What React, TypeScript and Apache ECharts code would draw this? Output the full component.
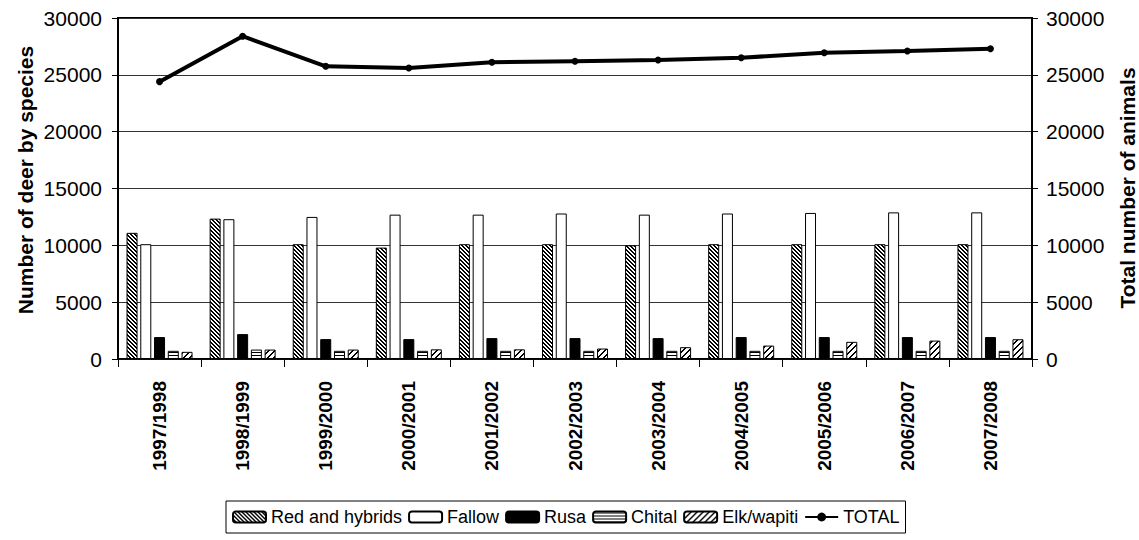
import React, { useEffect, useRef } from 'react';
import * as echarts from 'echarts';

const seasons = ['1997/1998', '1998/1999', '1999/2000', '2000/2001', '2001/2002', '2002/2003', '2003/2004', '2004/2005', '2005/2006', '2006/2007', '2007/2008'];
const redHybrids = [11100, 12350, 10100, 9800, 10100, 10100, 10000, 10100, 10100, 10100, 10100];
const fallow = [10100, 12300, 12500, 12700, 12700, 12800, 12700, 12800, 12850, 12900, 12900];
const rusa = [1930, 2190, 1750, 1750, 1840, 1840, 1840, 1930, 1930, 1930, 1930];
const chital = [720, 830, 720, 720, 720, 720, 720, 720, 720, 720, 720];
const elk = [630, 830, 830, 850, 850, 920, 1040, 1180, 1510, 1620, 1740];
const total = [24400, 28400, 25750, 25600, 26100, 26200, 26300, 26500, 26950, 27100, 27300];
const yTicks = { min: 0, max: 30000, interval: 5000 };

const FONT = '"Liberation Sans", Arial, sans-serif';

function makePattern(w: number, h: number, isBlack: (x: number, y: number) => boolean) {
  const c = document.createElement('canvas');
  c.width = w;
  c.height = h;
  const ctx = c.getContext('2d')!;
  ctx.fillStyle = '#fff';
  ctx.fillRect(0, 0, w, h);
  ctx.fillStyle = '#000';
  for (let x = 0; x < w; x++) {
    for (let y = 0; y < h; y++) {
      if (isBlack(x, y)) ctx.fillRect(x, y, 1, 1);
    }
  }
  return { image: c, repeat: 'repeat', imageWidth: w, imageHeight: h } as any;
}

export default function App() {
  const ref = useRef<HTMLDivElement>(null);
  useEffect(() => {
    if (!ref.current) return;
    const chart = echarts.init(ref.current, null, { renderer: 'svg' });
    const redPat = makePattern(4, 4, (x, y) => (((x - y) % 4) + 4) % 4 < 2);
    const chitalPat = makePattern(4, 3, (_x, y) => y === 1);
    const elkPat = makePattern(6, 6, (x, y) => (x + y) % 6 < 2);
    const barBase = { type: 'bar', yAxisIndex: 0, barWidth: 11, barGap: '25%' };
    const border = { borderColor: '#000', borderWidth: 1 };
    const plain = (v: number) => String(v);
    chart.setOption({
      animation: false,
      backgroundColor: '#fff',
      textStyle: { fontFamily: FONT, color: '#000' },
      grid: { left: 118, right: 107, top: 18, bottom: 181, show: true, borderColor: '#000', borderWidth: 2, containLabel: false },
      legend: {
        left: 226,
        top: 501,
        padding: [7, 6],
        itemGap: 6,
        itemWidth: 33,
        itemHeight: 11,
        borderColor: '#000',
        borderWidth: 1,
        textStyle: { fontSize: 18, color: '#000', fontFamily: FONT },
        data: ['Red and hybrids', 'Fallow', 'Rusa', 'Chital', 'Elk/wapiti', 'TOTAL'],
      },
      xAxis: {
        type: 'category',
        data: seasons,
        axisLine: { lineStyle: { color: '#000', width: 1.5 } },
        axisTick: { show: true, length: 8, lineStyle: { color: '#000' } },
        axisLabel: { rotate: 90, margin: 22, fontSize: 19, fontWeight: 'bold', color: '#000', fontFamily: FONT },
      },
      yAxis: [
        {
          type: 'value',
          ...yTicks,
          position: 'left',
          axisLine: { show: true, lineStyle: { color: '#000', width: 2 } },
          axisTick: { show: true, length: 6, lineStyle: { color: '#000' } },
          axisLabel: { margin: 16, fontSize: 21, color: '#000', fontFamily: FONT, formatter: plain },
          splitLine: { show: true, lineStyle: { color: '#333', width: 1 } },
        },
        {
          type: 'value',
          ...yTicks,
          position: 'right',
          axisLine: { show: true, lineStyle: { color: '#000', width: 2 } },
          axisTick: { show: true, length: 6, lineStyle: { color: '#000' } },
          axisLabel: { margin: 14, fontSize: 21, color: '#000', fontFamily: FONT, formatter: plain },
          splitLine: { show: false },
        },
      ],
      graphic: [
        {
          type: 'text',
          x: 25,
          y: 180,
          rotation: Math.PI / 2,
          style: { text: 'Number of deer by species', textAlign: 'center', textVerticalAlign: 'middle', font: `bold 21px ${FONT}`, fill: '#000' },
        },
        {
          type: 'text',
          x: 1127,
          y: 188,
          rotation: Math.PI / 2,
          style: { text: 'Total number of animals', textAlign: 'center', textVerticalAlign: 'middle', font: `bold 21px ${FONT}`, fill: '#000' },
        },
      ],
      series: [
        { ...barBase, name: 'Red and hybrids', data: redHybrids, itemStyle: { color: redPat, ...border } },
        { ...barBase, name: 'Fallow', data: fallow, itemStyle: { color: '#fff', ...border } },
        { ...barBase, name: 'Rusa', data: rusa, itemStyle: { color: '#000', ...border } },
        { ...barBase, name: 'Chital', data: chital, itemStyle: { color: chitalPat, ...border } },
        { ...barBase, name: 'Elk/wapiti', data: elk, itemStyle: { color: elkPat, ...border } },
        {
          type: 'line',
          name: 'TOTAL',
          yAxisIndex: 1,
          data: total,
          symbol: 'circle',
          symbolSize: 7,
          lineStyle: { color: '#000', width: 4 },
          itemStyle: { color: '#000' },
        },
      ],
    });
    return () => chart.dispose();
  }, []);
  return <div ref={ref} style={{ position: 'fixed', left: 0, top: 0, width: 1139, height: 540 }} />;
}
